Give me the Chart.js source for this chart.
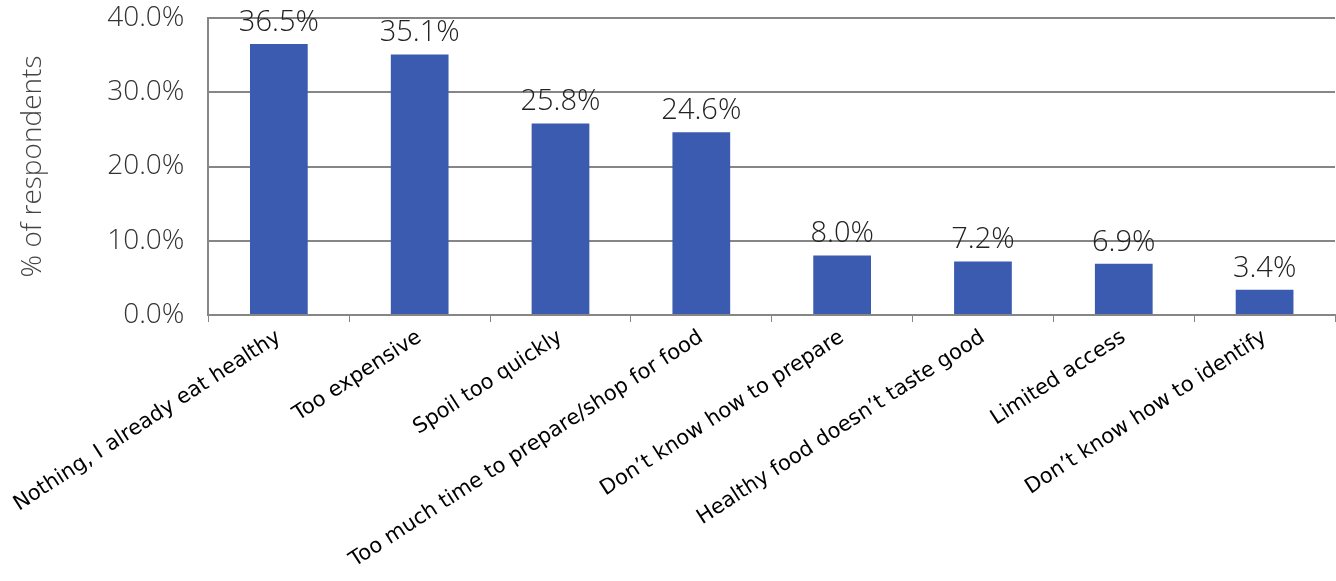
<!DOCTYPE html>
<html>
<head>
<meta charset="utf-8">
<script src="https://cdn.jsdelivr.net/npm/chart.js@4"></script>
<style>
  html, body { margin: 0; padding: 0; background: #fff; }
  #wrap { width: 1336px; height: 581px; }
</style>
</head>
<body>
<div id="wrap"><canvas id="reasons" width="1336" height="581"></canvas></div>
<script>
// Chart data
const categories = [
    "Nothing, I already eat healthy",
    "Too expensive",
    "Spoil too quickly",
    "Too much time to prepare/shop for food",
    "Don\u2019t know how to prepare",
    "Healthy food doesn\u2019t taste good",
    "Limited access",
    "Don\u2019t know how to identify"
];
const respondents = [36.5, 35.1, 25.8, 24.6, 8.0, 7.2, 6.9, 3.4];
const yTicks = [0, 10, 20, 30, 40];
const yTitle = "% of respondents";

const gridColor = "#868686";
const thinFont = "'Open Sans', sans-serif";

// Value labels above each bar
const barLabels = {
    id: "barLabels",
    afterDatasetsDraw(chart) {
        const ctx = chart.ctx;
        const meta = chart.getDatasetMeta(0);
        ctx.save();
        ctx.font = "300 29px " + thinFont;
        ctx.fillStyle = "#222";
        ctx.textAlign = "center";
        ctx.textBaseline = "bottom";
        meta.data.forEach(function (bar, i) {
            ctx.fillText(respondents[i].toFixed(1) + "%", bar.x, bar.y - 7);
        });
        ctx.restore();
    }
};

document.addEventListener("DOMContentLoaded", function () {
    "use strict";

    let canvas = document.getElementById("reasons");
    new Chart(canvas.getContext("2d"), {
        type: "bar",
        data: {
            labels: categories,
            datasets: [{
                data: respondents,
                backgroundColor: "#3a5bb0",
                barPercentage: 0.41,
                categoryPercentage: 1.0
            }]
        },
        options: {
            responsive: false,
            animation: false,
            layout: { padding: { top: 0, right: 1, left: 0, bottom: 0 } },
            plugins: {
                legend: { display: false },
                tooltip: { enabled: false }
            },
            scales: {
                x: {
                    grid: {
                        display: true,
                        drawOnChartArea: false,
                        drawTicks: true,
                        tickLength: 7,
                        color: gridColor,
                        offset: true
                    },
                    border: { display: true, color: gridColor, width: 2 },
                    ticks: {
                        minRotation: 33,
                        maxRotation: 33,
                        autoSkip: false,
                        padding: 3,
                        color: "#000",
                        font: { family: "'DejaVu Sans', sans-serif", size: 21 }
                    },
                    afterFit: function (scale) { scale.height = 266; }
                },
                y: {
                    min: 0,
                    max: 40,
                    afterBuildTicks: function (scale) {
                        scale.ticks = yTicks.map(v => ({ value: v }));
                    },
                    grid: { color: gridColor, lineWidth: 2, drawTicks: false },
                    border: { display: true, color: gridColor, width: 2 },
                    ticks: {
                        padding: 24,
                        color: "#333",
                        font: { family: thinFont, size: 28, weight: "300" },
                        callback: v => v.toFixed(1) + "%"
                    },
                    title: {
                        display: true,
                        text: yTitle,
                        color: "#444",
                        padding: { top: 15, bottom: 0 },
                        font: { family: thinFont, size: 28, weight: "300" }
                    },
                    afterFit: function (scale) {
                        scale.width = 207;
                        scale.paddingTop = 18;
                    }
                }
            }
        },
        plugins: [barLabels]
    });
});
</script>
</body>
</html>
